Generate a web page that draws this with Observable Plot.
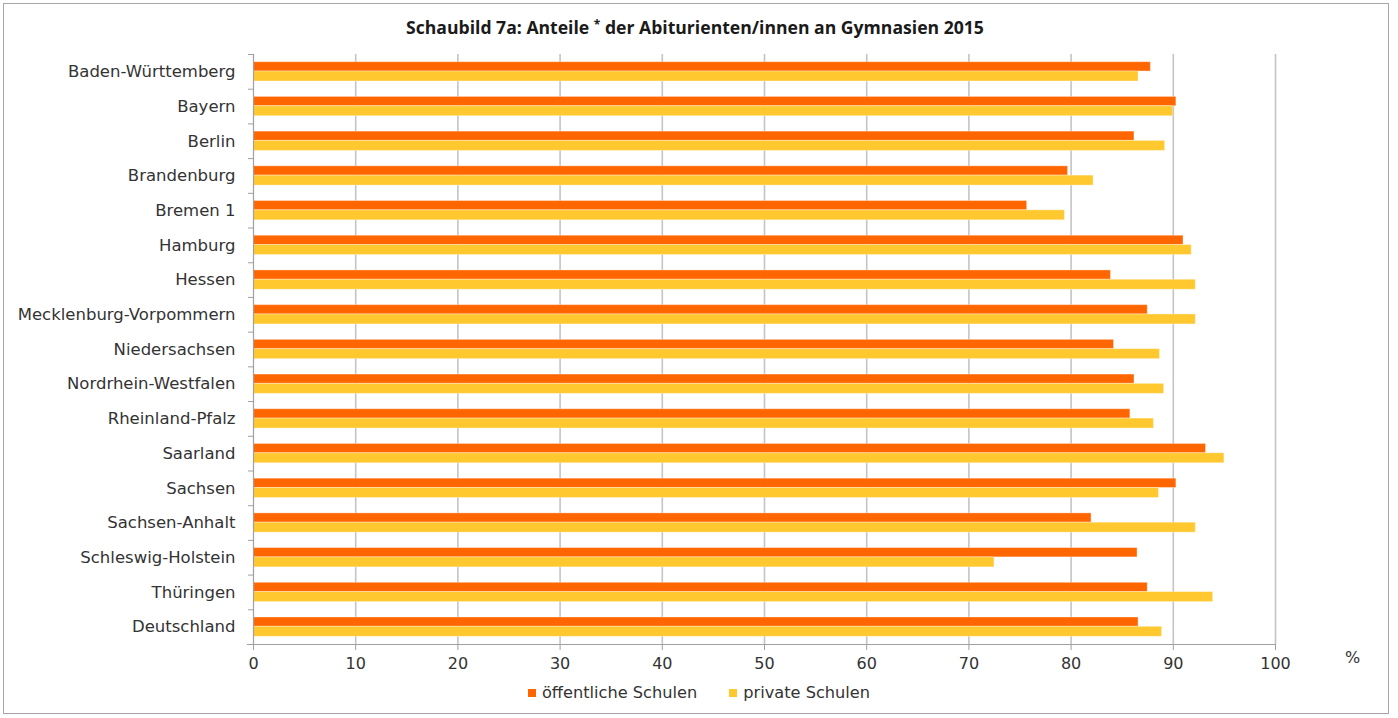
<!DOCTYPE html>
<html>
<head>
<meta charset="utf-8">
<script src="https://cdn.jsdelivr.net/npm/d3@7"></script>
<script src="https://cdn.jsdelivr.net/npm/@observablehq/plot@0.6"></script>
<style>
  html, body { margin: 0; padding: 0; background: #fff; }
  #page { position: relative; width: 1398px; height: 718px; overflow: hidden; font-family: "DejaVu Sans", sans-serif; color: #333; }
  #box { position: absolute; left: 3px; top: 3px; width: 1384px; height: 709px; border: 1px solid #a6a6a6; }
  #title { position: absolute; left: 0; width: 1390px; top: 15px; text-align: center; font-family: "Open Sans", sans-serif; font-weight: 700; font-size: 17.6px; color: #1a1a1a; line-height: 24px; }
  #title sup { font-size: 12px; vertical-align: 5px; line-height: 0; }
  #chart { position: absolute; left: 0; top: 48px; }
  #pct { position: absolute; left: 1345px; top: 648px; font-size: 16px; }
  #legend { position: absolute; left: 0; width: 1398px; top: 683px; display: flex; justify-content: center; gap: 0; font-size: 16.2px; line-height: 20px; }
  .item { display: flex; align-items: center; margin: 0 16px; }
  .sw { width: 8px; height: 8px; margin-right: 6px; }
</style>
</head>
<body>
<div id="page">
  <div id="box"></div>
  <div id="title">Schaubild 7a: Anteile <sup>*</sup> der Abiturienten/innen an Gymnasien 2015</div>
  <div id="chart"></div>
  <div id="pct">%</div>
  <div id="legend"></div>
</div>
<script>
const states = [
  "Baden-Württemberg", "Bayern", "Berlin", "Brandenburg", "Bremen 1", "Hamburg",
  "Hessen", "Mecklenburg-Vorpommern", "Niedersachsen", "Nordrhein-Westfalen",
  "Rheinland-Pfalz", "Saarland", "Sachsen", "Sachsen-Anhalt", "Schleswig-Holstein",
  "Thüringen", "Deutschland"
];
const oeffentlich = [87.8, 90.3, 86.2, 79.7, 75.7, 91.0, 83.9, 87.5, 84.2, 86.2, 85.8, 93.2, 90.3, 82.0, 86.5, 87.5, 86.6];
const privat      = [86.6, 90.0, 89.2, 82.2, 79.4, 91.8, 92.2, 92.2, 88.7, 89.1, 88.1, 95.0, 88.6, 92.2, 72.5, 93.9, 88.9];
const seriesNames = ["öffentliche Schulen", "private Schulen"];
const seriesColors = ["#ff6600", "#ffc82e"];
const xTicks = [0, 10, 20, 30, 40, 50, 60, 70, 80, 90, 100];

const rows = states.map((s, i) => ({state: s, oeff: oeffentlich[i], priv: privat[i]}));

const W = 1398, H = 630, mT = 6, mB = 34;
const bw = (H - mT - mB) / states.length;

const chart = Plot.plot({
  width: W,
  height: H,
  marginLeft: 253,
  marginRight: 123,
  marginTop: mT,
  marginBottom: mB,
  style: {fontFamily: "DejaVu Sans, sans-serif", fontSize: "16.5px", color: "#333", overflow: "visible"},
  x: {domain: [0, 100], ticks: xTicks},
  y: {domain: states, padding: 0, round: false},
  marks: [
    Plot.ruleX(xTicks.filter(d => d > 0), {stroke: "#c4c4c4", strokeWidth: 1.6}),
    Plot.barX(rows, {
      y: "state", x: "oeff", fill: seriesColors[0],
      insetTop: bw * 0.222, insetBottom: bw - bw * 0.49,
      stroke: "#ffffff", strokeOpacity: 0.35, strokeWidth: 1
    }),
    Plot.barX(rows, {
      y: "state", x: "priv", fill: seriesColors[1],
      insetTop: bw * 0.49, insetBottom: bw - bw * 0.778,
      stroke: "#ffffff", strokeOpacity: 0.35, strokeWidth: 1
    }),
    Plot.frame({anchor: "left", stroke: "#a0a0a0", strokeWidth: 1.2}),
    Plot.frame({anchor: "bottom", stroke: "#a0a0a0", strokeWidth: 1.2, insetLeft: -6}),
    Plot.axisY({tickSize: 0, tickPadding: 18, fill: "#333", fontSize: 16.5, label: null}),
    Plot.axisY({tickSize: 5, tickFormat: () => "", dy: -bw / 2, stroke: "#a0a0a0", label: null}),
    Plot.axisX({ticks: xTicks, tickSize: 6, tickPadding: 7, stroke: "#a0a0a0", fill: "#333", fontSize: 16, label: null})
  ]
});
document.getElementById("chart").appendChild(chart);

const legend = document.getElementById("legend");
seriesNames.forEach((n, i) => {
  const it = document.createElement("div");
  it.className = "item";
  const sw = document.createElement("div");
  sw.className = "sw";
  sw.style.background = seriesColors[i];
  const t = document.createElement("span");
  t.textContent = n;
  it.appendChild(sw); it.appendChild(t);
  legend.appendChild(it);
});
</script>
</body>
</html>
